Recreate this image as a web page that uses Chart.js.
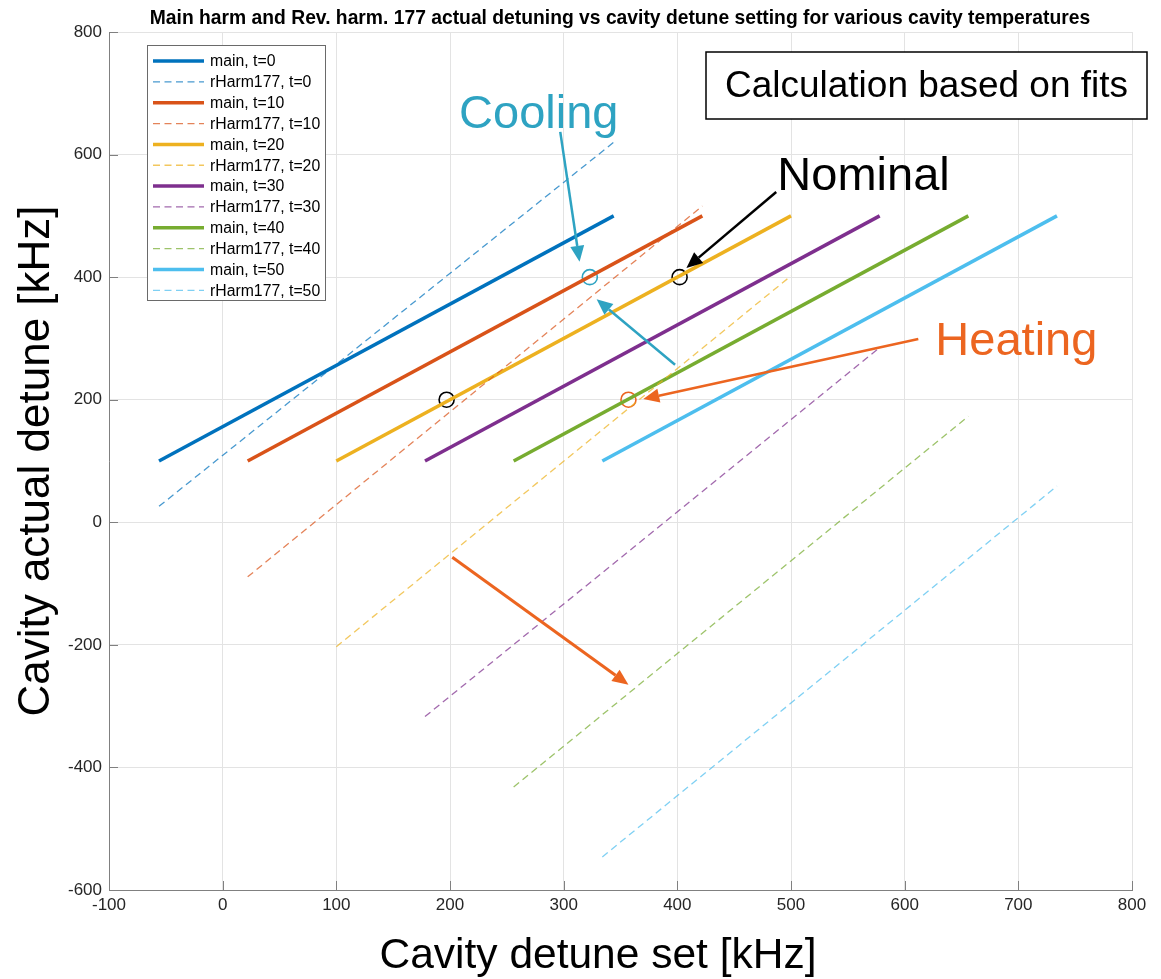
<!DOCTYPE html>
<html>
<head>
<meta charset="utf-8">
<script src="https://cdn.jsdelivr.net/npm/chart.js@4.4.0/dist/chart.umd.min.js"></script>
<style>
  html, body { margin: 0; padding: 0; background: #fff; }
  canvas { display: block; }
</style>
</head>
<body>
<canvas id="chart" width="1161" height="979"></canvas>
<script>
// temperatures and colours (MATLAB default order)
const temps = [0, 10, 20, 30, 40, 50];
const colors = ['#0072BD', '#D95319', '#EDB120', '#7E2F8E', '#77AC30', '#4DBEEE'];
const dashColors = ['rgba(0,114,189,0.72)', 'rgba(217,83,25,0.72)', 'rgba(237,177,32,0.72)',
                    'rgba(126,47,142,0.72)', 'rgba(119,172,48,0.72)', 'rgba(77,190,238,0.72)'];

// main harmonic lines (start / end)
const mainX0 = [-56, 22, 100, 178, 256, 334];
const mainX1 = [344, 422, 500, 578, 656, 734];
const mainY0 = [100, 100, 100, 100, 100, 100];
const mainY1 = [500, 500, 500, 500, 500, 500];

// rev. harm. 177 lines (same x span)
const harmY0 = [26, -89, -203, -317, -432, -546];
const harmY1 = [620, 516, 402, 285, 173, 59];

// axes
const xTicks = [-100, 0, 100, 200, 300, 400, 500, 600, 700, 800];
const yTicks = [-600, -400, -200, 0, 200, 400, 600, 800];

// circled points
const nominalX = [197, 402];
const nominalY = [200, 400];
const coolX = [323];
const coolY = [400];
const heatX = [357];
const heatY = [200];

const coolColor = '#2ea3c2';
const heatColor = '#ec6520';

// arrows in data units, tip at "to"
const arrows = [
  { from: [297, 637], to: [314, 425], color: coolColor, width: 2.5 },
  { from: [398, 257], to: [329, 364], color: coolColor, width: 2.5 },
  { from: [487, 539], to: [408, 415], color: '#000', width: 2.5 },
  { from: [612, 299], to: [370, 201], color: heatColor, width: 2.5 },
  { from: [202, -57], to: [357, -265], color: heatColor, width: 3 }
];
const notes = [
  { text: 'Cooling', x: 208, y: 643, color: coolColor },
  { text: 'Nominal', x: 488, y: 543, color: '#000' },
  { text: 'Heating', x: 627, y: 273, color: heatColor }
];

const FONT = '"Liberation Sans", Arial, sans-serif';

const datasets = [];
temps.forEach((t, i) => {
  datasets.push({
    label: 'main, t=' + t,
    data: [{ x: mainX0[i], y: mainY0[i] }, { x: mainX1[i], y: mainY1[i] }],
    borderColor: colors[i],
    borderWidth: 3.5,
    showLine: true,
    pointRadius: 0
  });
  datasets.push({
    label: 'rHarm177, t=' + t,
    data: [{ x: mainX0[i], y: harmY0[i] }, { x: mainX1[i], y: harmY1[i] }],
    borderColor: dashColors[i],
    borderWidth: 1.3,
    borderDash: [7, 4.5],
    showLine: true,
    pointRadius: 0
  });
});

function circles(xs, ys, color) {
  return {
    label: '',
    data: xs.map((x, k) => ({ x: x, y: ys[k] })),
    showLine: false,
    pointRadius: 7.5,
    pointBorderWidth: 1.6,
    pointBorderColor: color,
    pointBackgroundColor: 'rgba(0,0,0,0)',
    isMarker: true
  };
}
datasets.push(circles(nominalX, nominalY, '#000'));
datasets.push(circles(coolX, coolY, coolColor));
datasets.push(circles(heatX, heatY, heatColor));

function drawArrow(ctx, x0, y0, x1, y1, color, width) {
  const ang = Math.atan2(y1 - y0, x1 - x0);
  const hl = 16, hw = 7;
  const bx = x1 - hl * Math.cos(ang), by = y1 - hl * Math.sin(ang);
  ctx.save();
  ctx.strokeStyle = color;
  ctx.fillStyle = color;
  ctx.lineWidth = width;
  ctx.beginPath();
  ctx.moveTo(x0, y0);
  ctx.lineTo(bx, by);
  ctx.stroke();
  ctx.beginPath();
  ctx.moveTo(x1, y1);
  ctx.lineTo(bx + hw * Math.sin(ang), by - hw * Math.cos(ang));
  ctx.lineTo(bx - hw * Math.sin(ang), by + hw * Math.cos(ang));
  ctx.closePath();
  ctx.fill();
  ctx.restore();
}

const decorations = {
  id: 'decorations',
  afterDatasetsDraw(chart) {
    const ctx = chart.ctx;
    const area = chart.chartArea;
    const xs = chart.scales.x, ys = chart.scales.y;

    // inward ticks on left and bottom axes
    ctx.save();
    ctx.strokeStyle = '#808080';
    ctx.lineWidth = 1;
    xTicks.forEach(v => {
      const px = Math.round(xs.getPixelForValue(v)) + 0.5;
      ctx.beginPath();
      ctx.moveTo(px, area.bottom);
      ctx.lineTo(px, area.bottom - 9);
      ctx.stroke();
    });
    yTicks.forEach(v => {
      const py = Math.round(ys.getPixelForValue(v)) + 0.5;
      ctx.beginPath();
      ctx.moveTo(area.left, py);
      ctx.lineTo(area.left + 9, py);
      ctx.stroke();
    });
    ctx.restore();

    // title
    ctx.save();
    ctx.fillStyle = '#000';
    ctx.font = 'bold 19.3px ' + FONT;
    ctx.textAlign = 'center';
    ctx.textBaseline = 'alphabetic';
    ctx.fillText('Main harm and Rev. harm. 177 actual detuning vs cavity detune setting for various cavity temperatures', 620, 24);

    // axis titles
    ctx.font = '42.5px ' + FONT;
    ctx.fillText('Cavity detune set [kHz]', 598, 968);
    ctx.translate(49, (area.top + area.bottom) / 2);
    ctx.rotate(-Math.PI / 2);
    ctx.font = '44px ' + FONT;
    ctx.fillText('Cavity actual detune [kHz]', 0, 0);
    ctx.restore();

    // legend
    ctx.save();
    const lx = 147.5, ly = 45.5, lw = 178, lh = 255;
    ctx.fillStyle = '#fff';
    ctx.fillRect(lx, ly, lw, lh);
    ctx.strokeStyle = '#6a6a6a';
    ctx.lineWidth = 1;
    ctx.strokeRect(lx, ly, lw, lh);
    ctx.font = '15.8px ' + FONT;
    ctx.textBaseline = 'middle';
    ctx.fillStyle = '#000';
    chart.data.datasets.forEach((ds, k) => {
      if (ds.isMarker) return;
      const ry = 61 + k * 20.85;
      ctx.save();
      ctx.strokeStyle = ds.borderColor;
      ctx.lineWidth = ds.borderWidth;
      ctx.setLineDash(ds.borderDash || []);
      ctx.beginPath();
      ctx.moveTo(153, ry);
      ctx.lineTo(204, ry);
      ctx.stroke();
      ctx.restore();
      ctx.fillText(ds.label, 210, ry + 1);
    });
    ctx.restore();

    // arrows
    arrows.forEach(a => {
      drawArrow(ctx,
        xs.getPixelForValue(a.from[0]), ys.getPixelForValue(a.from[1]),
        xs.getPixelForValue(a.to[0]), ys.getPixelForValue(a.to[1]),
        a.color, a.width);
    });

    // annotation texts
    ctx.save();
    ctx.font = '47px ' + FONT;
    ctx.textAlign = 'left';
    ctx.textBaseline = 'alphabetic';
    notes.forEach(n => {
      ctx.fillStyle = n.color;
      ctx.fillText(n.text, xs.getPixelForValue(n.x), ys.getPixelForValue(n.y));
    });

    // text box
    const bx = area.right - 426, by = area.top + 20;
    ctx.fillStyle = '#fff';
    ctx.fillRect(bx, by, 441, 67);
    ctx.strokeStyle = '#000';
    ctx.lineWidth = 1.5;
    ctx.strokeRect(bx, by, 441, 67);
    ctx.fillStyle = '#000';
    ctx.font = '37px ' + FONT;
    ctx.textAlign = 'center';
    ctx.textBaseline = 'middle';
    ctx.fillText('Calculation based on fits', bx + 220.5, by + 35);
    ctx.restore();
  }
};

new Chart(document.getElementById('chart').getContext('2d'), {
  type: 'scatter',
  data: { datasets: datasets },
  options: {
    responsive: false,
    animation: false,
    layout: { padding: { top: 32, right: 29, left: 0, bottom: 0 } },
    plugins: {
      legend: { display: false },
      title: { display: false },
      tooltip: { enabled: false }
    },
    elements: { line: { tension: 0 } },
    scales: {
      x: {
        type: 'linear',
        min: -100,
        max: 800,
        afterFit: s => { s.height = 89; },
        afterBuildTicks: s => { s.ticks = xTicks.map(v => ({ value: v })); },
        ticks: { color: '#262626', font: { family: FONT, size: 17 }, padding: 5 },
        grid: { color: '#e3e3e3', drawTicks: false },
        border: { color: '#808080', width: 1 }
      },
      y: {
        type: 'linear',
        min: -600,
        max: 800,
        afterFit: s => { s.width = 109; },
        afterBuildTicks: s => { s.ticks = yTicks.map(v => ({ value: v })); },
        ticks: { color: '#262626', font: { family: FONT, size: 17 }, padding: 7 },
        grid: { color: '#e3e3e3', drawTicks: false },
        border: { color: '#808080', width: 1 }
      }
    }
  },
  plugins: [decorations]
});
</script>
</body>
</html>
